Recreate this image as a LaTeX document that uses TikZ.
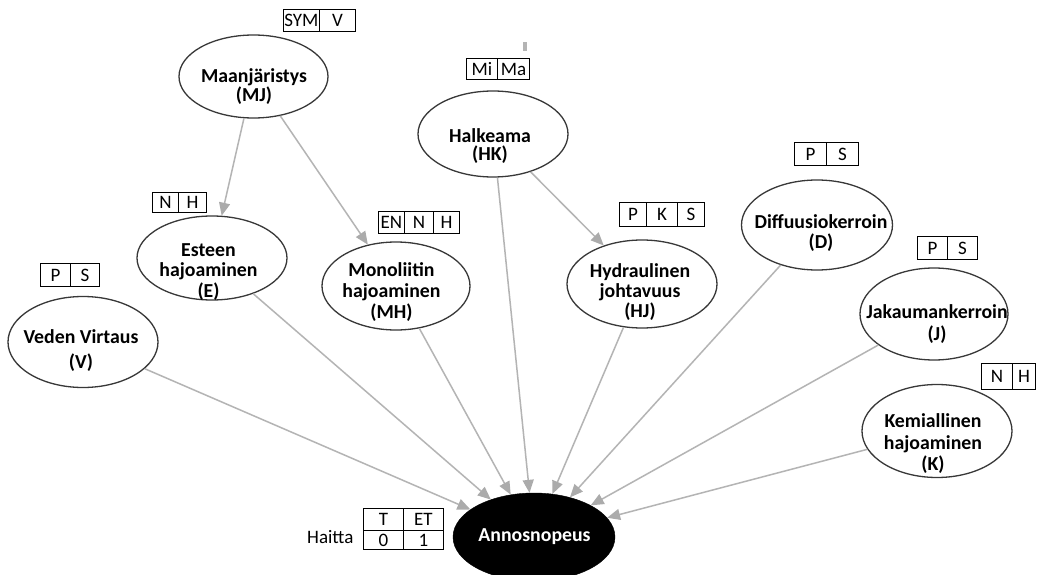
\documentclass[tikz,border=0pt]{standalone}
\usepackage{fontspec}
\setmainfont{Carlito}
\usetikzlibrary{arrows.meta,shapes.geometric}
\definecolor{ellcol}{HTML}{383838}
\definecolor{edgecol}{HTML}{B4B4B4}
\definecolor{tipcol}{HTML}{ABABAB}
\tikzset{
  ell/.style={ellipse, draw=ellcol, line width=1.3pt, inner sep=0pt, fill=white},
  blackell/.style={ellipse, draw=black, fill=black, inner sep=0pt},
  lbl/.style={align=center, inner sep=0pt, text=black, font=\fontsize{19.8}{#1}\selectfont\bfseries},
  lbl/.default=20,
  cell/.style={draw=black, line width=0.9pt, inner sep=0pt, anchor=north west,
    text height=12.2pt, text depth=0pt, font=\fontsize{19}{20}\selectfont},
  edge/.style={draw=edgecol, line width=1.5pt, -{Triangle[length=13pt,width=11pt,color=tipcol]}}
}
\begin{document}
\begin{tikzpicture}[x=1pt,y=-1pt]
\useasboundingbox (0,0) rectangle (1037,575);
\clip (0,0) rectangle (1037,575);
\fill[white] (0,0) rectangle (1037,575);

% ellipses
\node[ell, minimum width=149pt, minimum height=83pt] (MJ) at (253.5,76.5) {};
\node[ell, minimum width=150pt, minimum height=86pt] (HK) at (493,134) {};
\node[ell, minimum width=150pt, minimum height=84pt] (E) at (212,258) {};
\node[ell, minimum width=148pt, minimum height=88pt] (MH) at (396,286) {};
\node[ell, minimum width=150pt, minimum height=91pt] (V) at (83,342) {};
\node[ell, minimum width=150pt, minimum height=88pt] (HJ) at (642,284) {};
\node[ell, minimum width=151pt, minimum height=90pt] (D) at (817,225) {};
\node[ell, minimum width=148pt, minimum height=92pt] (J) at (934,314) {};
\node[ell, minimum width=150pt, minimum height=93pt] (K) at (937,431) {};
\node[blackell, minimum width=162pt, minimum height=88pt] (A) at (534,537) {};

% edges
\draw[edge] (MJ) -- (E);
\draw[edge] (MJ) -- (MH);
\draw[edge] (HK) -- (HJ);
\foreach \s in {V,E,MH,HK,HJ,D,J,K} \draw[edge] (\s) -- (A);

% labels
\node[lbl=18] (MJt) at (254,87) {Maanjäristys\\(MJ)};
\node[lbl=18] (HKt) at (490,146) {Halkeama\\(HK)};
\node[lbl=25] (Vt) at (81,351) {Veden Virtaus\\(V)};
\node[lbl=20.5] (Et) at (208.5,272) {Esteen\\hajoaminen\\(E)};
\node[lbl=21] (MHt) at (391.5,292.5) {Monoliitin\\hajoaminen\\(MH)};
\node[lbl=20] (HJt) at (640,292.5) {Hydraulinen\\johtavuus\\(HJ)};
\node[lbl=20] (Dt) at (821,233.5) {Diffuusiokerroin\\(D)};
\node[lbl=22] (Jt) at (937,324.5) {Jakaumankerroin\\(J)};
\node[lbl=21.5] (Kt) at (933,444) {Kemiallinen\\hajoaminen\\(K)};
\node[lbl, text=white] (At) at (534.5,537) {Annosnopeus};

% tables
\node[cell, minimum width=36pt, minimum height=22pt] (mj1) at (283,9) {SYM};
\node[cell, minimum width=36pt, minimum height=22pt] (mj2) at (319,9) {V};

\fill[edgecol] (523,42) rectangle (527,51);
\node[cell, minimum width=31pt, minimum height=21pt] (hk1) at (466,58) {Mi};
\node[cell, minimum width=32pt, minimum height=21pt] (hk2) at (497,58) {Ma};

\node[cell, minimum width=30pt, minimum height=23pt] (v1) at (40,263) {P};
\node[cell, minimum width=29pt, minimum height=23pt] (v2) at (70,263) {S};

\node[cell, minimum width=26pt, minimum height=20pt] (e1) at (152,192) {N};
\node[cell, minimum width=28pt, minimum height=20pt] (e2) at (178,192) {H};

\node[cell, minimum width=26pt, minimum height=22pt] (mh1) at (378,211) {EN};
\node[cell, minimum width=29pt, minimum height=22pt] (mh2) at (404,211) {N};
\node[cell, minimum width=26pt, minimum height=22pt] (mh3) at (433,211) {H};

\node[cell, minimum width=27pt, minimum height=24pt] (hj1) at (619,202) {P};
\node[cell, minimum width=31pt, minimum height=24pt] (hj2) at (646,202) {K};
\node[cell, minimum width=27pt, minimum height=24pt] (hj3) at (677,202) {S};

\node[cell, minimum width=32pt, minimum height=23pt] (d1) at (794,142) {P};
\node[cell, minimum width=32pt, minimum height=23pt] (d2) at (826,142) {S};

\node[cell, minimum width=30pt, minimum height=23pt] (j1) at (917,236) {P};
\node[cell, minimum width=30pt, minimum height=23pt] (j2) at (947,236) {S};

\node[cell, minimum width=31pt, minimum height=26pt] (k1) at (981,363) {N};
\node[cell, minimum width=23pt, minimum height=26pt] (k2) at (1012,363) {H};

\node[cell, minimum width=40pt, minimum height=22pt] (h1) at (363,508) {T};
\node[cell, minimum width=40pt, minimum height=22pt] (h2) at (403,508) {ET};
\node[cell, minimum width=40pt, minimum height=19pt] (h3) at (363,530) {0};
\node[cell, minimum width=40pt, minimum height=19pt] (h4) at (403,530) {1};
\node[anchor=base west, inner sep=0pt, font=\fontsize{19}{20}\selectfont] (haitta) at (307,543) {Haitta};
\end{tikzpicture}
\end{document}
